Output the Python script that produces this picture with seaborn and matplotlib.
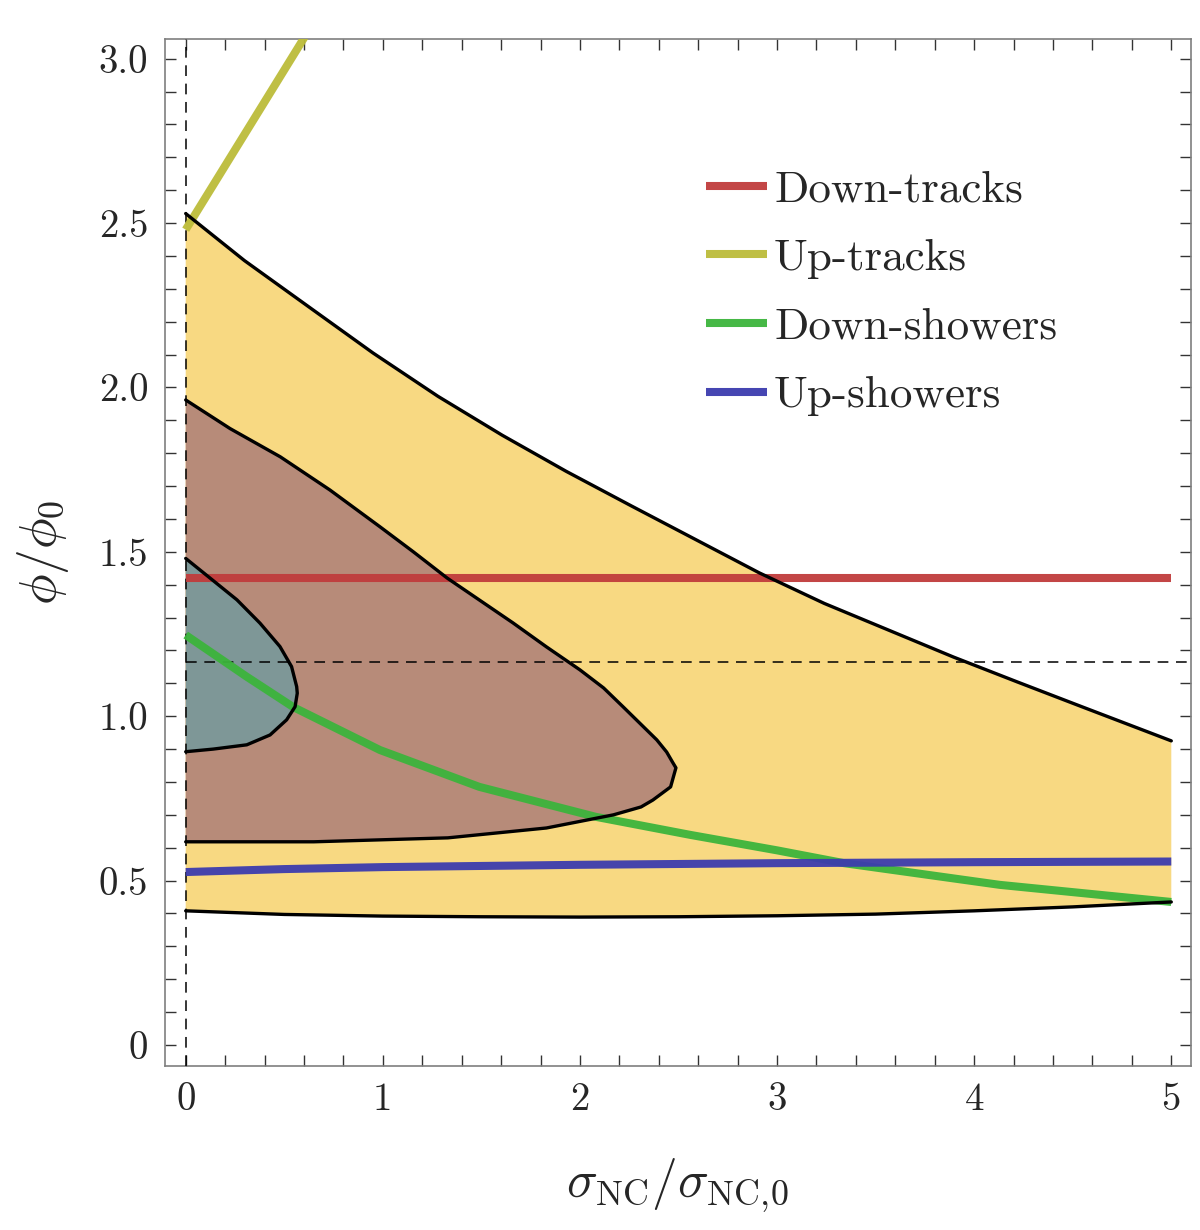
import numpy as np
import matplotlib
matplotlib.use("Agg")
import matplotlib.pyplot as plt
import seaborn as sns
from matplotlib.ticker import MultipleLocator

# outer (yellow) allowed region
outer_hi_x = [0, 0.298, 0.625, 0.95, 1.28, 1.605, 1.93, 2.26, 2.585, 2.91, 3.24, 3.895, 4.22, 4.55, 5.0]
outer_hi = [2.529, 2.386, 2.245, 2.105, 1.973, 1.855, 1.745, 1.64, 1.538, 1.436, 1.343, 1.18, 1.104, 1.028, 0.925]
outer_lo_x = [0, 0.5, 1, 1.5, 2, 2.5, 3, 3.5, 4, 4.5, 5]
outer_lo = [0.408, 0.397, 0.392, 0.390, 0.389, 0.390, 0.393, 0.398, 0.408, 0.420, 0.435]

# middle (brown) region
mid_hi_x = [0, 0.225, 0.48, 0.732, 0.986, 1.155, 1.327, 1.66, 1.83, 2.0, 2.12, 2.22, 2.39, 2.44, 2.47, 2.487]
mid_hi = [1.962, 1.875, 1.789, 1.688, 1.576, 1.50, 1.42, 1.284, 1.211, 1.141, 1.086, 1.028, 0.928, 0.891, 0.860, 0.843]
mid_lo_x = [0, 0.65, 1.33, 1.83, 2.17, 2.31, 2.37, 2.46, 2.487]
mid_lo = [0.618, 0.618, 0.630, 0.660, 0.700, 0.724, 0.745, 0.785, 0.843]

# inner (teal) region
in_hi_x = [0, 0.124, 0.26, 0.377, 0.478, 0.537, 0.563, 0.566]
in_hi = [1.48, 1.42, 1.354, 1.283, 1.212, 1.151, 1.09, 1.07]
in_lo_x = [0, 0.14, 0.31, 0.428, 0.512, 0.555, 0.566]
in_lo = [0.892, 0.90, 0.913, 0.943, 0.989, 1.029, 1.07]

# sample curves
down_tracks_x = [0, 5]
down_tracks_y = [1.42, 1.42]
up_tracks_x = [0, 0.7]
up_tracks_y = [2.48, 3.16]
down_showers_x = [0, 0.31, 0.545, 0.986, 1.49, 2.08, 2.56, 3.0, 3.34, 4.13, 5]
down_showers_y = [1.247, 1.12, 1.028, 0.897, 0.785, 0.694, 0.639, 0.592, 0.553, 0.487, 0.435]
up_showers_x = [0, 0.5, 1, 2, 3, 4, 5]
up_showers_y = [0.526, 0.535, 0.541, 0.548, 0.553, 0.556, 0.558]

best_x = 0.0
best_y = 1.165

sns.set_style("ticks")
plt.rcParams["font.family"] = ["cmr10", "DejaVu Serif"]
plt.rcParams["mathtext.fontset"] = "cm"
plt.rcParams["axes.formatter.use_mathtext"] = True

fig = plt.figure(figsize=(12, 12.3), dpi=100)
ax = fig.add_axes([0.1375, 0.1336, 0.855, 0.8347])

# filled regions
ax.fill(outer_hi_x + outer_lo_x[::-1], outer_hi + outer_lo[::-1], color="#f8d982", lw=0, zorder=1)
ax.fill(mid_hi_x + mid_lo_x[::-1], mid_hi + mid_lo[::-1], color="#b78b79", lw=0, zorder=2)
ax.fill(in_hi_x + in_lo_x[::-1], in_hi + in_lo[::-1], color="#7e9797", lw=0, zorder=3)

# dashed best fit lines
ax.axvline(best_x, color="black", lw=1.1, ls=(0, (7, 5)), zorder=4)
ax.plot([best_x, 5.1], [best_y, best_y], color="black", lw=1.1, ls=(0, (7, 5)), zorder=4)

# colored curves
series = [
    ("Down-tracks", down_tracks_x, down_tracks_y, "#c03c3c"),
    ("Up-tracks", up_tracks_x, up_tracks_y, "#bcbc3a"),
    ("Down-showers", down_showers_x, down_showers_y, "#3cb43c"),
    ("Up-showers", up_showers_x, up_showers_y, "#3c3cae"),
]
for name, xs, ys, col in series:
    sns.lineplot(x=xs, y=ys, color=col, lw=5.8, label=name, ax=ax, zorder=5,
                 solid_capstyle="butt", alpha=0.95)

# contour lines
ax.plot(outer_hi_x, outer_hi, color="black", lw=2.4, zorder=6)
ax.plot(outer_lo_x, outer_lo, color="black", lw=2.4, zorder=6)
ax.plot(mid_hi_x + mid_lo_x[::-1], mid_hi + mid_lo[::-1], color="black", lw=2.4, zorder=6)
ax.plot(in_hi_x + in_lo_x[::-1], in_hi + in_lo[::-1], color="black", lw=2.4, zorder=6)

ax.set_xlim(-0.105, 5.1)
ax.set_ylim(-0.063, 3.06)

ax.xaxis.set_minor_locator(MultipleLocator(0.2))
ax.yaxis.set_minor_locator(MultipleLocator(0.1))
ax.set_xticks([0, 1, 2, 3, 4, 5])
ax.set_xticklabels(["0", "1", "2", "3", "4", "5"])
ax.set_yticks([0, 0.5, 1.0, 1.5, 2.0, 2.5, 3.0])
ax.set_yticklabels(["0", "0.5", "1.0", "1.5", "2.0", "2.5", "3.0"])

ax.tick_params(which="both", direction="in", top=True, right=True,
               length=8, width=1.0, color="#333333")
ax.tick_params(which="major", labelsize=28, pad=12)
for sp in ax.spines.values():
    sp.set_color("#7f7f7f")
    sp.set_linewidth(1.2)

ax.set_xlabel(r"$\sigma_{\rm NC}/\sigma_{\rm NC,\!0}$", fontsize=37, labelpad=28)
ax.set_ylabel(r"$\phi/\phi_0$", fontsize=37, labelpad=20)

ax.legend(loc="upper left", bbox_to_anchor=(0.51, 0.89), frameon=False,
          fontsize=32.5, handlelength=1.35, handletextpad=0.15, labelspacing=0.62,
          borderaxespad=0)

fig.savefig("out.png", dpi=100)
